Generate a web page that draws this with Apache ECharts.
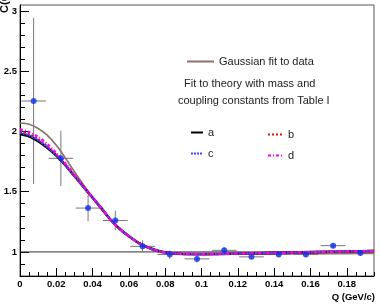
<!DOCTYPE html>
<html>
<head>
<meta charset="utf-8">
<script src="https://cdn.jsdelivr.net/npm/echarts@6/dist/echarts.min.js"></script>
<style>
  html, body { margin: 0; padding: 0; background: #fff; }
  #chart { width: 380px; height: 304px; }
</style>
</head>
<body>
<div id="chart"></div>
<script>
// measured correlation points (Q bin centres), values and errors
const qPoints = [0.0075, 0.0225, 0.0375, 0.0525, 0.0675, 0.0825, 0.0975, 0.1125, 0.1275, 0.1425, 0.1575, 0.1725, 0.1875];
const cPoints = [2.253, 1.777, 1.364, 1.261, 1.046, 0.978, 0.942, 1.013, 0.959, 0.978, 0.978, 1.052, 0.99];
const cErr = [0.69, 0.23, 0.11, 0.08, 0.05, 0.035, 0.028, 0.025, 0.02, 0.02, 0.02, 0.02, 0.02];
const qErr = [0.0068, 0.0068, 0.0068, 0.0068, 0.0068, 0.0068, 0.0068, 0.0068, 0.0068, 0.0068, 0.0068, 0.0068, 0.0068];

// curves
const curveQ = [0, 0.005, 0.01, 0.015, 0.02, 0.025, 0.03, 0.035, 0.04, 0.045, 0.05, 0.055, 0.06, 0.065, 0.07, 0.075, 0.08, 0.09, 0.1, 0.12, 0.14, 0.16, 0.18, 0.195];
const gaussFit = [2.07, 2.06, 2.025, 1.97, 1.885, 1.78, 1.665, 1.555, 1.45, 1.35, 1.265, 1.19, 1.13, 1.08, 1.045, 1.02, 1.0, 0.985, 0.98, 0.98, 0.982, 0.984, 0.986, 0.988];
const fitA = [1.98, 1.96, 1.92, 1.865, 1.8, 1.72, 1.63, 1.54, 1.45, 1.36, 1.265, 1.19, 1.13, 1.078, 1.04, 1.012, 0.995, 0.983, 0.982, 0.986, 0.992, 0.998, 1.004, 1.008];
const fitB = [2.0, 1.975, 1.935, 1.875, 1.805, 1.722, 1.632, 1.541, 1.45, 1.36, 1.265, 1.19, 1.13, 1.078, 1.04, 1.012, 0.995, 0.983, 0.982, 0.986, 0.992, 0.998, 1.004, 1.008];
const fitC = [1.99, 1.968, 1.928, 1.87, 1.802, 1.721, 1.631, 1.54, 1.45, 1.36, 1.265, 1.19, 1.13, 1.078, 1.04, 1.012, 0.995, 0.983, 0.982, 0.986, 0.992, 0.998, 1.004, 1.008];
const fitD = [2.02, 1.995, 1.955, 1.895, 1.82, 1.735, 1.64, 1.545, 1.452, 1.36, 1.265, 1.19, 1.13, 1.078, 1.04, 1.012, 0.995, 0.983, 0.982, 0.986, 0.992, 0.998, 1.004, 1.008];

// axes
const xLabels = [0, 0.02, 0.04, 0.06, 0.08, 0.1, 0.12, 0.14, 0.16, 0.18];
const yLabels = [1, 1.5, 2, 2.5, 3];
const xMinor = [];
for (let i = 0; i <= 39; i++) xMinor.push(+(i * 0.005).toFixed(3));
const yMinor = [];
for (let i = 8; i <= 30; i++) yMinor.push(+(i * 0.1).toFixed(1));

const font = "'Liberation Sans', Arial, sans-serif";
const pairs = ys => curveQ.map((q, i) => [q, ys[i]]);

const chart = echarts.init(document.getElementById("chart"));

function curve(name, data, color, width, dash, z) {
  return {
    name: name,
    type: "line",
    data: pairs(data),
    smooth: 0.3,
    symbol: "none",
    z: z,
    lineStyle: { color: color, width: width, type: dash },
    itemStyle: { color: color },
    animation: false
  };
}

// one legend per entry, the symbol of the line icon is hidden
function legendAt(name, left, top, w) {
  return {
    data: [name],
    left: left,
    top: top,
    itemWidth: w,
    itemHeight: 10,
    selectedMode: false,
    itemStyle: { opacity: 0 },
    textStyle: { fontFamily: font, fontSize: 11, color: "#222" }
  };
}

chart.setOption({
  animation: false,
  grid: { left: 20, right: 6, top: 5, bottom: 28, show: true, borderColor: "#555", borderWidth: 1 },
  xAxis: [
    {
      type: "value", min: 0, max: 0.195, position: "bottom",
      axisLine: { lineStyle: { color: "#000" } },
      axisTick: { inside: true, length: 8, customValues: xLabels, lineStyle: { color: "#000" } },
      axisLabel: { customValues: xLabels, color: "#000", fontFamily: font, fontWeight: "bold", fontSize: 9.5, margin: 3 },
      splitLine: { show: false }
    },
    {
      type: "value", min: 0, max: 0.195, position: "bottom",
      axisLine: { show: false },
      axisTick: { inside: true, length: 4, customValues: xMinor, lineStyle: { color: "#000" } },
      axisLabel: { show: false },
      splitLine: { show: false }
    }
  ],
  yAxis: [
    {
      type: "value", min: 0.8, max: 3.05, position: "left",
      axisLine: { show: true, lineStyle: { color: "#000" } },
      axisTick: { show: true, inside: true, length: 9, customValues: yLabels, lineStyle: { color: "#000" } },
      axisLabel: { customValues: yLabels, color: "#000", fontFamily: font, fontWeight: "bold", fontSize: 9.5, margin: 3 },
      splitLine: { show: false }
    },
    {
      type: "value", min: 0.8, max: 3.05, position: "left",
      axisLine: { show: false },
      axisTick: { show: true, inside: true, length: 5, customValues: yMinor, lineStyle: { color: "#000" } },
      axisLabel: { show: false },
      splitLine: { show: false }
    }
  ],
  legend: [
    legendAt("Gaussian fit to data", 181, 51, 27),
    legendAt("a", 185, 122, 12),
    legendAt("b", 262, 124, 15),
    legendAt("c", 185, 143, 12),
    legendAt("d", 262, 145, 15)
  ],
  graphic: [
    { type: "text", left: 184, top: 78, style: { text: "Fit to theory with mass and", font: "11px " + font, fill: "#222" } },
    { type: "text", left: 178, top: 95, style: { text: "coupling constants from Table I", font: "11px " + font, fill: "#222" } },
    { type: "text", x: 5, y: 1, rotation: Math.PI / 2, style: { text: "C(Q)", font: "bold 11px " + font, fill: "#000", align: "center", verticalAlign: "middle" } },
    { type: "text", x: 375, y: 297, style: { text: "Q (GeV/c)", font: "bold 9.5px " + font, fill: "#000", align: "right", verticalAlign: "middle" } }
  ],
  series: [
    {
      name: "unity", type: "line", data: [[0, 1], [0.195, 1]], symbol: "none", z: 1,
      lineStyle: { color: "#333", width: 1 }, silent: true
    },
    {
      name: "errors", type: "custom", z: 2,
      data: qPoints.map((q, i) => [q, cPoints[i], cErr[i], qErr[i]]),
      renderItem: (params, api) => {
        const q = api.value(0), c = api.value(1), e = api.value(2), h = api.value(3);
        const l = api.coord([q - h, c]), r = api.coord([q + h, c]);
        const b = api.coord([q, c - e]), t = api.coord([q, c + e]);
        const st = { stroke: "#777", lineWidth: 1 };
        return {
          type: "group",
          children: [
            { type: "line", shape: { x1: l[0], y1: l[1], x2: r[0], y2: r[1] }, style: st },
            { type: "line", shape: { x1: b[0], y1: b[1], x2: t[0], y2: t[1] }, style: st }
          ]
        };
      }
    },
    curve("Gaussian fit to data", gaussFit, "#8c7266", 1.6, "solid", 3),
    curve("a", fitA, "#000", 2.6, "solid", 4),
    curve("b", fitB, "#e01010", 2.4, [2, 2], 5),
    curve("c", fitC, "#4646ff", 2.2, [2, 1], 6),
    curve("d", fitD, "#ff00ff", 2.4, [3, 2, 1, 2], 7),
    {
      name: "data", type: "scatter", z: 8,
      data: qPoints.map((q, i) => [q, cPoints[i]]),
      symbolSize: 6,
      itemStyle: { color: "#1030f0" }
    }
  ]
});
</script>
</body>
</html>
